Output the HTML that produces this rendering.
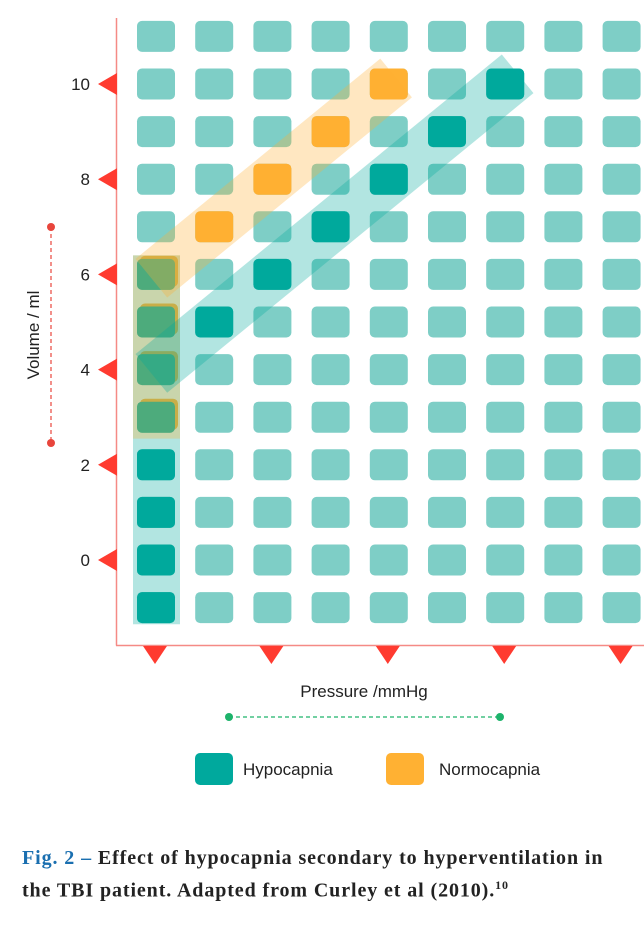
<!DOCTYPE html>
<html><head><meta charset="utf-8"><style>
body{margin:0;background:#fff;width:644px;height:938px;overflow:hidden;font-family:"Liberation Sans",sans-serif}
svg{position:absolute;left:0;top:0}
.cap{position:absolute;left:22px;top:845px;font-family:"Liberation Serif",serif;font-weight:bold;font-size:20px;letter-spacing:0.9px;line-height:27px;color:#222;white-space:nowrap}
.cap b{color:#1a6fb0}
</style></head><body>
<svg id="chart" width="644" height="938"></svg>
<div class="cap"><b>Fig. 2 –</b> Effect of hypocapnia secondary to hyperventilation in<br>the TBI patient. Adapted from Curley et al (2010).<sup style="font-size:12px">10</sup></div>
<script>
const cols=[0,1,2,3,4,5,6,7,8];
const volumes=[11,10,9,8,7,6,5,4,3,2,1,0,-1];
const yTicks=[10,8,6,4,2,0];
const xTickCols=[0,2,4,6,8];
const hypoCol=[0,0,0,0,0,0,0,0,1,2,3,4,5,6];
const hypoVol=[6,5,4,3,2,1,0,-1,5,6,7,8,9,10];
const normoCol=[1,2,3,4];
const normoVol=[7,8,9,10];
const overlapVol=[6,5,4,3];
const svg=document.getElementById('chart');
const NS='http://www.w3.org/2000/svg';
const X=c=>156+c*58.2, Y=v=>84+(10-v)*47.6;
function mk(t,a,name){const e=document.createElementNS(NS,t);for(const k in a)e.setAttribute(k,a[k]);


svg.appendChild(e);return e;}
function cell(c,v,fill,name,dx=0,dy=0){return mk('rect',{x:X(c)-19+dx,y:Y(v)-15.5+dy,width:38,height:31,rx:5,fill:fill},name);}
const defs=mk('defs',{},'defs');
defs.innerHTML='<clipPath id="cl"><rect x="133" y="0" width="520" height="700"/></clipPath>';
for(const c of cols)for(const v of volumes)cell(c,v,'#7ecec6','grid-cell');
overlapVol.forEach(v=>cell(0,v,'#ffb133','normocapnia-offset',3,-3));
normoCol.forEach((c,i)=>cell(c,normoVol[i],'#ffb133','normocapnia-cell'));
hypoCol.forEach((c,i)=>cell(c,hypoVol[i],'#00a99d','hypocapnia-cell'));
mk('rect',{x:133,y:Y(6.4),width:47,height:Y(-1.35)-Y(6.4),fill:'rgba(0,169,157,0.3)'},'hypocapnia-vertical-band');
mk('rect',{x:133,y:Y(6.4),width:47,height:Y(2.55)-Y(6.4),fill:'rgba(255,177,51,0.3)'},'normocapnia-vertical-band');
const ang=Math.atan(47.6/58.2)*180/Math.PI;
function band(c0,v0,len,fill,name){const cx=X(c0),cy=Y(v0);
mk('rect',{x:cx-150,y:cy-25,width:len+150,height:50,fill:fill,transform:`rotate(${-ang} ${cx} ${cy})`,'clip-path':'url(#cl)'},name);}
band(1,7,235,'rgba(255,177,51,0.3)','normocapnia-diagonal-band');
band(1,5,392,'rgba(0,169,157,0.3)','hypocapnia-diagonal-band');
mk('line',{x1:116.5,y1:18,x2:116.5,y2:645.5,stroke:'#f58a86','stroke-width':1.5},'y-axis');
mk('line',{x1:116,y1:645.5,x2:644,y2:645.5,stroke:'#f58a86','stroke-width':1.5},'x-axis');
yTicks.forEach(v=>{const y=Y(v);
mk('polygon',{points:`117,${y-11} 117,${y+11} 98,${y}`,fill:'#ff3b30'},'y-tick-marker');
const t=mk('text',{x:90,y:y+6,'text-anchor':'end','font-size':17,fill:'#222'},'y-tick-label');t.textContent=v;});
xTickCols.forEach(c=>{const x=X(c)-1;
mk('polygon',{points:`${x-12},646 ${x+12},646 ${x},664`,fill:'#ff3b30'},'x-tick-marker');});
let t=mk('text',{x:364,y:697,'text-anchor':'middle','font-size':17,fill:'#222'},'x-axis-title');t.textContent='Pressure /mmHg';
t=mk('text',{x:0,y:0,'text-anchor':'middle','font-size':17,fill:'#222',transform:'translate(39,335) rotate(-90)'},'y-axis-title');t.textContent='Volume / ml';
mk('line',{x1:229,y1:717,x2:500,y2:717,stroke:'#1db36b','stroke-width':1.2,'stroke-dasharray':'4,3'},'x-axis-range-line');
mk('circle',{cx:229,cy:717,r:4,fill:'#1db36b'},'x-range-dot');mk('circle',{cx:500,cy:717,r:4,fill:'#1db36b'},'x-range-dot');
mk('line',{x1:51,y1:227,x2:51,y2:443,stroke:'#e8453c','stroke-width':1.2,'stroke-dasharray':'4,3'},'y-axis-range-line');
mk('circle',{cx:51,cy:227,r:4,fill:'#e8453c'},'y-range-dot');mk('circle',{cx:51,cy:443,r:4,fill:'#e8453c'},'y-range-dot');
mk('rect',{x:195,y:753,width:38,height:32,rx:5,fill:'#00a99d'},'legend-hypocapnia-swatch');
t=mk('text',{x:243,y:775,'font-size':17,fill:'#222'},'legend-hypocapnia-label');t.textContent='Hypocapnia';
mk('rect',{x:386,y:753,width:38,height:32,rx:5,fill:'#ffb133'},'legend-normocapnia-swatch');
t=mk('text',{x:439,y:775,'font-size':17,fill:'#222'},'legend-normocapnia-label');t.textContent='Normocapnia';
</script>
</body></html>
